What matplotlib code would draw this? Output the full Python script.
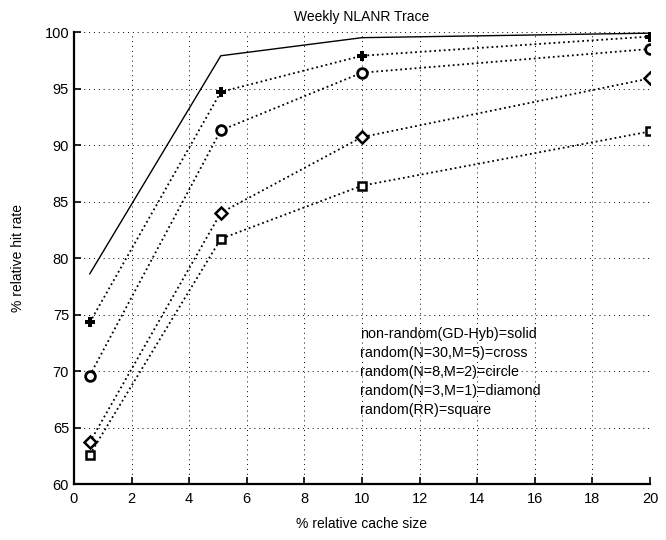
import matplotlib
matplotlib.use("Agg")
import matplotlib.pyplot as plt

plt.rcParams['font.family'] = ['Liberation Sans', 'DejaVu Sans']

# cache sizes (% relative)
cache_size = [0.55, 5.1, 10, 20]

# relative hit rate per policy
gd_hyb = [78.6, 97.9, 99.5, 99.9]
rand_30_5 = [74.3, 94.7, 97.9, 99.6]
rand_8_2 = [69.6, 91.3, 96.4, 98.5]
rand_3_1 = [63.7, 84.0, 90.7, 95.9]
rand_rr = [62.6, 81.7, 86.4, 91.2]

legend_lines = [
    'non-random(GD-Hyb)=solid',
    'random(N=30,M=5)=cross',
    'random(N=8,M=2)=circle',
    'random(N=3,M=1)=diamond',
    'random(RR)=square',
]

fig = plt.figure(figsize=(6.66, 5.4), dpi=100)
ax = fig.add_axes([0.111, 0.1037, 0.865, 0.837])

ax.plot(cache_size, gd_hyb, color='black', linewidth=1.0)
ax.plot(cache_size, rand_30_5, color='black', linestyle=':', linewidth=1.3,
        marker='P', markersize=7, markerfacecolor='black', markeredgewidth=0)
ax.plot(cache_size, rand_8_2, color='black', linestyle=':', linewidth=1.3,
        marker='o', markersize=7, markerfacecolor='white', markeredgewidth=2)
ax.plot(cache_size, rand_3_1, color='black', linestyle=':', linewidth=1.3,
        marker='D', markersize=6.5, markerfacecolor='white', markeredgewidth=1.8)
ax.plot(cache_size, rand_rr, color='black', linestyle=':', linewidth=1.3,
        marker='s', markersize=6, markerfacecolor='white', markeredgewidth=1.8)

ax.set_xlim(0, 20)
ax.set_ylim(60, 100)
ax.set_xticks(range(0, 21, 2))
ax.set_yticks(range(60, 101, 5))
ax.grid(True, color='black', linestyle=(0, (1, 4)), linewidth=0.7)
ax.tick_params(direction='in', length=5, width=1.2, labelsize=10.5, color='black')
ax.tick_params(axis='x', pad=6)
ax.spines['top'].set_visible(False)
ax.spines['right'].set_visible(False)
ax.spines['left'].set_linewidth(1.6)
ax.spines['bottom'].set_linewidth(1.6)

ax.set_title('Weekly NLANR Trace', fontsize=10, pad=8)
ax.set_xlabel('% relative cache size', fontsize=10, labelpad=8)
ax.set_ylabel('% relative hit rate', fontsize=10, labelpad=14)

ax.text(360 / 666, 1 - 327 / 540, '\n'.join(legend_lines), transform=fig.transFigure,
        fontsize=10.3, va='top', ha='left', linespacing=1.45)

fig.savefig('out.png', dpi=100)
